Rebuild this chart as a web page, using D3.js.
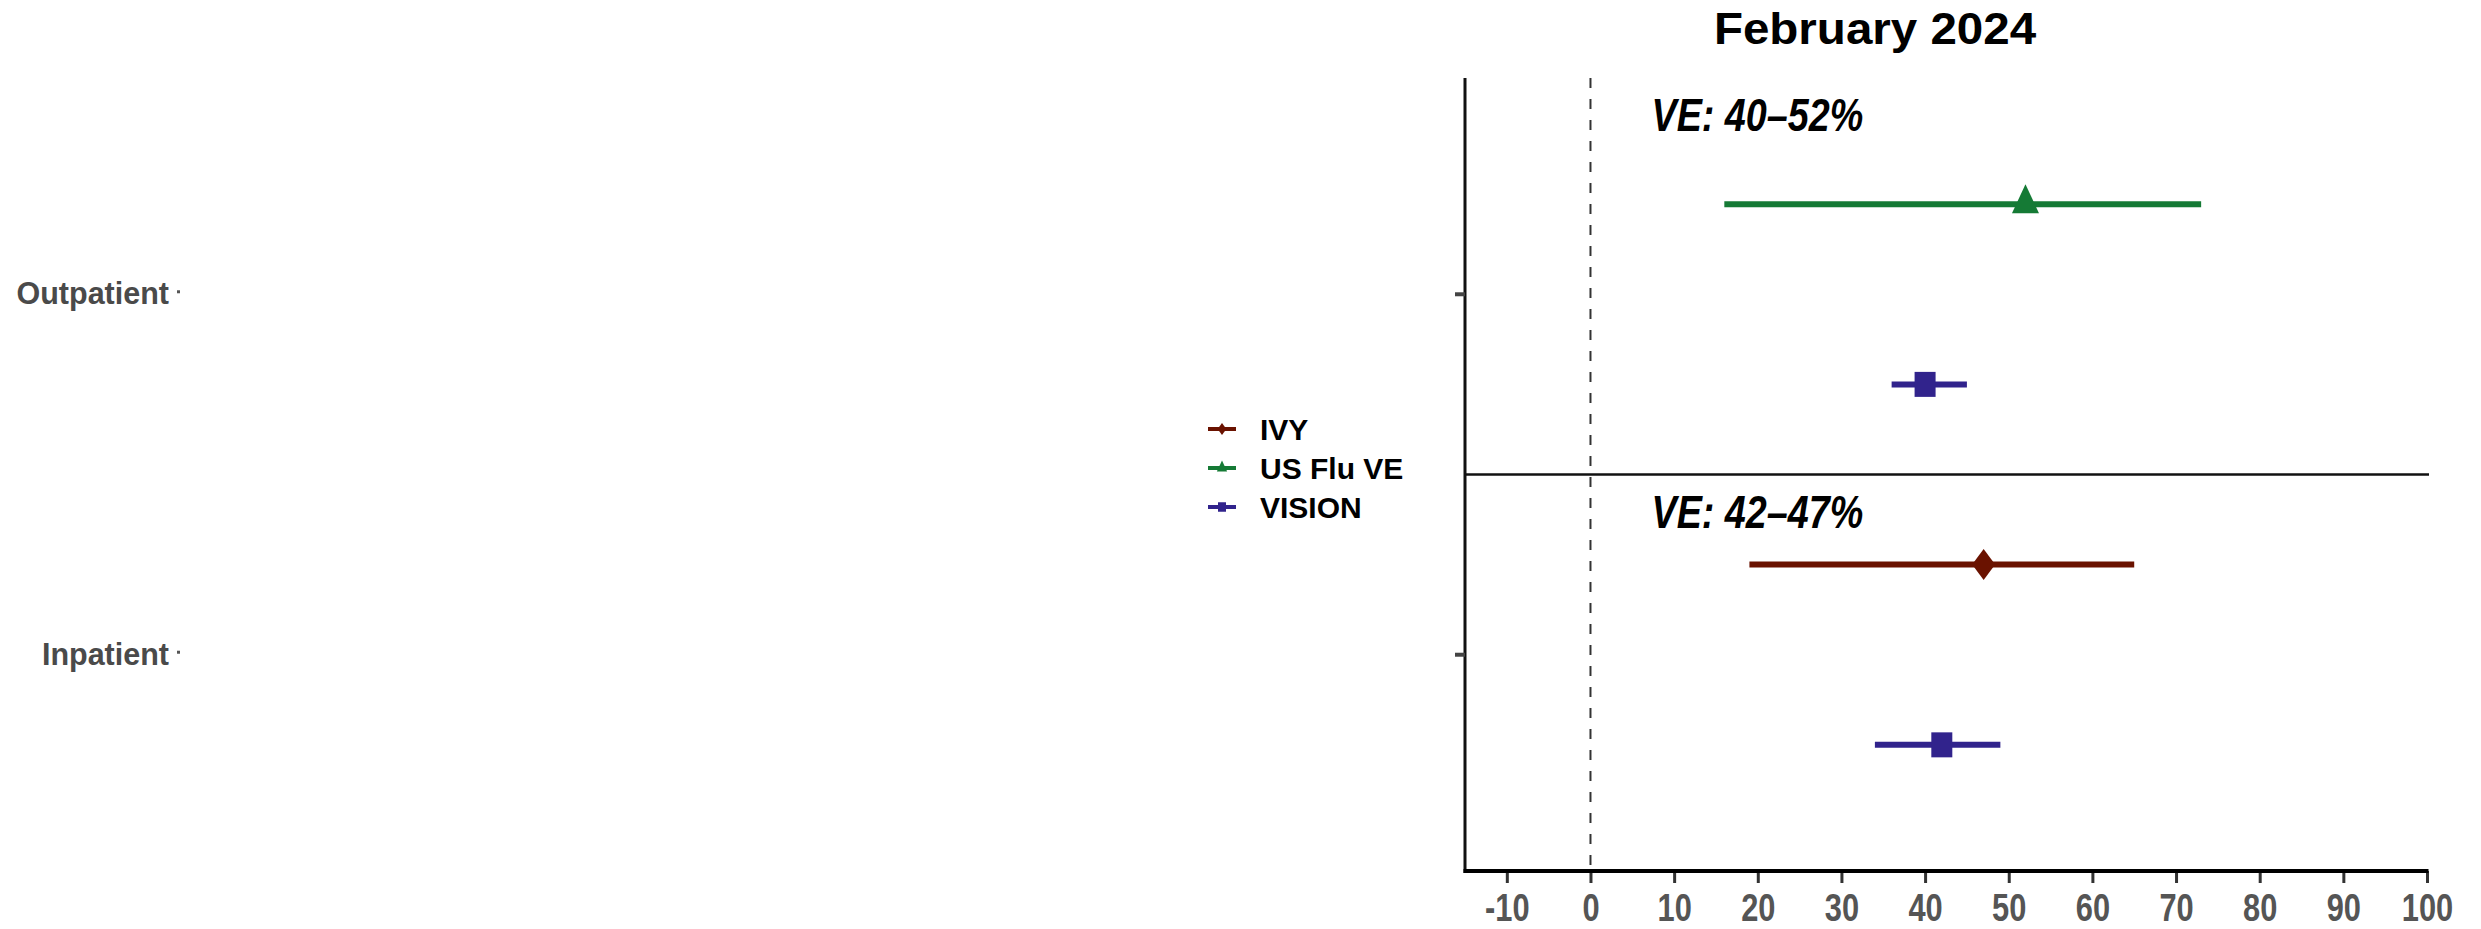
<!DOCTYPE html>
<html>
<head>
<meta charset="utf-8">
<script src="https://cdn.jsdelivr.net/npm/d3@7"></script>
<style>
  html, body { margin: 0; padding: 0; background: #fff; }
  svg { display: block; }
</style>
</head>
<body>
<script>
// Vaccine effectiveness estimates (%) with 95% confidence intervals, by care setting
const settings = ["Outpatient", "Inpatient"];
const studies = ["IVY", "US Flu VE", "VISION"];
const rowSetting = ["Outpatient", "Outpatient", "Inpatient", "Inpatient"];
const rowStudy = ["US Flu VE", "VISION", "IVY", "VISION"];
const veEstimate = [52, 40, 47, 42];
const ciLower = [16, 36, 19, 34];
const ciUpper = [73, 45, 65, 49];
const xTickValues = [-10, 0, 10, 20, 30, 40, 50, 60, 70, 80, 90, 100];
const rangeLabels = ["VE: 40–52%", "VE: 42–47%"];
const rangeLabelX = [7.3, 7.3];
const rangeLabelY = [2.453, 1.351];
const titleText = "February 2024";

const studyColor = { "IVY": "#6a1200", "US Flu VE": "#157a35", "VISION": "#31238c" };

const W = 2481, H = 929;
const svg = d3.select("body").append("svg").attr("width", W).attr("height", H);

// Scales
const x = d3.scaleLinear().domain([-15, 100]).range([1465, 2427]);
const settingPos = { "Outpatient": 2, "Inpatient": 1 };
const y = d3.scaleLinear().domain([0.4, 2.6]).range([871, 78]);

// Vertical offset of each study row inside its setting (first row above, second below)
const dodge = rowSetting.map((s, i) => {
  const idx = rowSetting.slice(0, i).filter(d => d === s).length;
  return idx === 0 ? 0.25 : -0.25;
});
const rows = rowStudy.map((st, i) => ({
  study: st, setting: rowSetting[i], ve: veEstimate[i], lo: ciLower[i], hi: ciUpper[i],
  yv: settingPos[rowSetting[i]] + dodge[i]
}));

// Title
svg.append("text")
  .attr("transform", "translate(1875,44) scale(1.08,1)")
  .attr("text-anchor", "middle")
  .style("font-family", "'Liberation Sans', Arial, sans-serif")
  .style("font-weight", 700)
  .style("font-size", "44px")
  .attr("fill", "#000")
  .text(titleText);

// Reference line at 0
svg.append("line")
  .attr("x1", x(0)).attr("x2", x(0))
  .attr("y1", y(2.6)).attr("y2", y(0.4))
  .attr("stroke", "#333").attr("stroke-width", 2)
  .attr("stroke-dasharray", "10,11");

// Separator between settings
svg.append("line")
  .attr("x1", x(-15)).attr("x2", x(100) + 2)
  .attr("y1", y(1.5)).attr("y2", y(1.5))
  .attr("stroke", "#111").attr("stroke-width", 2.5);

// Left axis line
svg.append("line")
  .attr("x1", x(-15)).attr("x2", x(-15))
  .attr("y1", y(2.6)).attr("y2", y(0.4) + 2)
  .attr("stroke", "#111").attr("stroke-width", 3);

// Y ticks for settings
svg.selectAll(".ytick").data(settings).enter().append("line")
  .attr("class", "ytick")
  .attr("x1", x(-15) - 10).attr("x2", x(-15))
  .attr("y1", d => y(settingPos[d])).attr("y2", d => y(settingPos[d]))
  .attr("stroke", "#444").attr("stroke-width", 4);

// Setting labels
svg.selectAll(".ylab").data(settings).enter().append("text")
  .attr("class", "ylab")
  .attr("x", 169)
  .attr("y", d => y(settingPos[d]) - 1)
  .attr("dy", "0.36em")
  .attr("text-anchor", "end")
  .style("font-family", "'Liberation Sans', Arial, sans-serif")
  .style("font-weight", 700)
  .style("font-size", "30.5px")
  .attr("fill", "#4a4a4a")
  .text(d => d);
svg.selectAll(".ydot").data(settings).enter().append("rect")
  .attr("class", "ydot")
  .attr("x", 177).attr("y", d => y(settingPos[d]) - 4)
  .attr("width", 3).attr("height", 3)
  .attr("fill", "#555");

// X axis
const xAxis = d3.axisBottom(x).tickValues(xTickValues)
  .tickFormat(d => String(d))
  .tickSize(12).tickSizeOuter(0).tickPadding(10);
const gx = svg.append("g").attr("transform", `translate(0,${y(0.4)})`).call(xAxis);
gx.select(".domain").remove();
gx.selectAll(".tick line").attr("stroke", "#333").attr("stroke-width", 3);
gx.selectAll(".tick text")
  .style("font-family", "'Liberation Sans', Arial, sans-serif")
  .style("font-weight", 700)
  .style("font-size", "39px")
  .attr("fill", "#555")
  .attr("transform", "scale(0.79,1)");
svg.append("line")
  .attr("x1", x(-15) - 1.5).attr("x2", x(100) + 1.5)
  .attr("y1", y(0.4)).attr("y2", y(0.4))
  .attr("stroke", "#000").attr("stroke-width", 4);

// Range annotations (condensed bold italic)
rangeLabels.forEach((t, i) => {
  svg.append("text")
    .attr("transform", `translate(${x(rangeLabelX[i])},${y(rangeLabelY[i])}) scale(0.82,1)`)
    .style("font-family", "'Liberation Sans', Arial, sans-serif")
    .style("font-weight", 700)
    .style("font-style", "italic")
    .style("font-size", "46px")
    .attr("fill", "#000")
    .text(t);
});

// Marker shapes
function markerPath(study, s) {
  if (study === "US Flu VE") {
    return `M0,${-20 * s}L${13.5 * s},${9 * s}L${-13.5 * s},${9 * s}Z`;
  } else if (study === "IVY") {
    return `M0,${-15.5 * s}L${11.5 * s},0L0,${15.5 * s}L${-11.5 * s},0Z`;
  }
  return `M${-10.5 * s},${-12.5 * s}H${10.5 * s}V${12.5 * s}H${-10.5 * s}Z`;
}

// Confidence intervals
const gRows = svg.append("g");
gRows.selectAll(".ci").data(rows).enter().append("line")
  .attr("class", "ci")
  .attr("x1", d => x(d.lo)).attr("x2", d => x(d.hi))
  .attr("y1", d => y(d.yv)).attr("y2", d => y(d.yv))
  .attr("stroke", d => studyColor[d.study]).attr("stroke-width", 6);

// Point estimates
gRows.selectAll(".pt").data(rows).enter().append("path")
  .attr("class", "pt")
  .attr("transform", d => `translate(${x(d.ve)},${y(d.yv)})`)
  .attr("d", d => markerPath(d.study, 1))
  .attr("fill", d => studyColor[d.study]);

// Legend
const legend = svg.append("g").attr("transform", "translate(1208,429)");
const li = legend.selectAll(".li").data(studies).enter().append("g")
  .attr("class", "li")
  .attr("transform", (d, i) => `translate(0,${i * 39})`);
li.append("line")
  .attr("x1", 0).attr("x2", 28).attr("y1", 0).attr("y2", 0)
  .attr("stroke", d => studyColor[d]).attr("stroke-width", 4);
li.append("path")
  .attr("transform", "translate(14,0)")
  .attr("d", d => markerPath(d, 0.38))
  .attr("fill", d => studyColor[d]);
li.append("text")
  .attr("x", 52).attr("y", 0).attr("dy", "0.36em")
  .style("font-family", "'Liberation Sans', Arial, sans-serif")
  .style("font-weight", 700)
  .style("font-size", "30px")
  .attr("fill", "#000")
  .text(d => d);
</script>
</body>
</html>
